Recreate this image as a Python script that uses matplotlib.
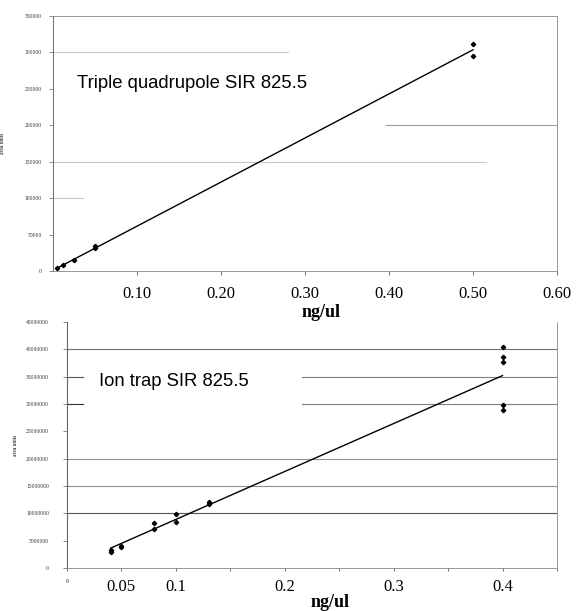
import numpy as np
import matplotlib
matplotlib.use("Agg")
import matplotlib.pyplot as plt

# ---- data: triple quadrupole ----
tq_x = [0.005, 0.012, 0.025, 0.05, 0.05, 0.5, 0.5]
tq_y = [3500, 8000, 14500, 31000, 34000, 312000, 295000]
tq_yticks = [0, 50000, 100000, 150000, 200000, 250000, 300000, 350000]
tq_xticks = [0.10, 0.20, 0.30, 0.40, 0.50, 0.60]
tq_xlabels = ["0.10", "0.20", "0.30", "0.40", "0.50", "0.60"]

# ---- data: ion trap ----
it_x = [0.04, 0.04, 0.05, 0.05, 0.08, 0.08, 0.1, 0.1, 0.13, 0.13,
        0.4, 0.4, 0.4, 0.4, 0.4]
it_y = [3.3e6, 3.0e6, 4.1e6, 3.8e6, 8.2e6, 7.2e6, 9.9e6, 8.4e6, 12.1e6, 11.7e6,
        40.5e6, 38.6e6, 37.7e6, 29.9e6, 28.9e6]
it_yticks = [0, 5000000, 10000000, 15000000, 20000000, 25000000,
             30000000, 35000000, 40000000, 45000000]
it_xticks = [0, 0.05, 0.1, 0.15, 0.2, 0.25, 0.3, 0.35, 0.4, 0.45]
it_xlabels = ["0", "0.05", "0.1", "", "0.2", "", "0.3", "", "0.4", ""]

serif = "Liberation Serif"
sans = "Liberation Sans"

fig = plt.figure(figsize=(5.85, 6.11), dpi=100)

# ---------- top panel ----------
ax1 = fig.add_axes([0.0906, 0.5565, 0.8615, 0.4173])
ax1.set_xlim(0, 0.6)
ax1.set_ylim(0, 350000)
for v, a, b, c in [(300000, 0, 0.466, "#c8c8c8"), (200000, 0.66, 1, "#a0a0a0"),
                   (150000, 0, 0.86, "#c8c8c8"), (100000, 0, 0.06, "#c8c8c8")]:
    ax1.axhline(v, xmin=a, xmax=b, color=c, lw=0.8, zorder=1)
ax1.plot(tq_x, tq_y, "D", color="black", ms=2.2, zorder=3)
p = np.polyfit(tq_x, tq_y, 1)
fx = np.array([min(tq_x), max(tq_x)])
ax1.plot(fx, np.polyval(p, fx), color="black", lw=1.0, zorder=2)
ax1.set_yticks(tq_yticks)
ax1.set_yticklabels([str(v) for v in tq_yticks], fontsize=4, family=serif, color="#333333")
ax1.set_xticks(tq_xticks)
ax1.set_xticklabels(tq_xlabels, fontsize=12, family=serif)
ax1.tick_params(axis="x", length=3, width=0.6, pad=8, color="#555555")
ax1.tick_params(axis="y", length=3, width=0.6, pad=5, color="#777777")
for s in ["top", "right", "bottom"]:
    ax1.spines[s].set_linestyle((0, (1, 1)))
    ax1.spines[s].set_linewidth(0.6)
    ax1.spines[s].set_color("#888888")
ax1.spines["left"].set_linewidth(0.8)
ax1.spines["left"].set_color("#777777")
ax1.set_ylabel("area units", fontsize=4, family=serif, labelpad=14)
ax1.text(0.048, 0.735, "Triple quadrupole SIR 825.5", transform=ax1.transAxes,
         fontsize=13.3, family=sans, va="center", ha="left")
fig.text(0.549, 0.488, "ng/ul", fontsize=13, family=serif, weight="bold", ha="center", va="center")

# ---------- bottom panel ----------
ax2 = fig.add_axes([0.1145, 0.0704, 0.8376, 0.4026])
ax2.set_xlim(0, 0.45)
ax2.set_ylim(0, 45000000)
for v, a, b, c in [(40000000, 0, 1, "#707070"), (35000000, 0, 0.033, "#555555"),
                   (35000000, 0.48, 1, "#808080"), (30000000, 0, 0.033, "#333333"),
                   (30000000, 0.48, 1, "#808080"), (20000000, 0, 1, "#909090"),
                   (15000000, 0, 1, "#909090"), (10000000, 0, 1, "#555555")]:
    ax2.axhline(v, xmin=a, xmax=b, color=c, lw=0.8, zorder=1)
ax2.plot(it_x, it_y, "D", color="black", ms=2.2, zorder=3)
p2 = np.polyfit(it_x, it_y, 1)
fx2 = np.array([min(it_x), max(it_x)])
ax2.plot(fx2, np.polyval(p2, fx2), color="black", lw=1.0, zorder=2)
ax2.set_yticks(it_yticks)
ax2.set_yticklabels([str(v) for v in it_yticks], fontsize=4, family=serif, color="#333333")
ax2.set_xticks(it_xticks)
ax2.set_xticklabels(it_xlabels, fontsize=12, family=serif)
ax2.get_xticklabels()[0].set_fontsize(4)
ax2.tick_params(axis="x", length=2, width=0.6, pad=6, color="#555555")
ax2.tick_params(axis="y", length=3, width=0.6, pad=10, color="#777777")
ax2.spines["top"].set_visible(False)
for s in ["right", "bottom"]:
    ax2.spines[s].set_linestyle((0, (1, 1)))
    ax2.spines[s].set_linewidth(0.6)
    ax2.spines[s].set_color("#888888")
ax2.spines["left"].set_linewidth(0.8)
ax2.spines["left"].set_color("#666666")
ax2.set_ylabel("area units", fontsize=4, family=serif, labelpad=6)
ax2.text(0.065, 0.757, "Ion trap SIR 825.5", transform=ax2.transAxes,
         fontsize=13.3, family=sans, va="center", ha="left")
fig.text(0.565, 0.014, "ng/ul", fontsize=13, family=serif, weight="bold", ha="center", va="center")

fig.savefig("out.png", dpi=100)
